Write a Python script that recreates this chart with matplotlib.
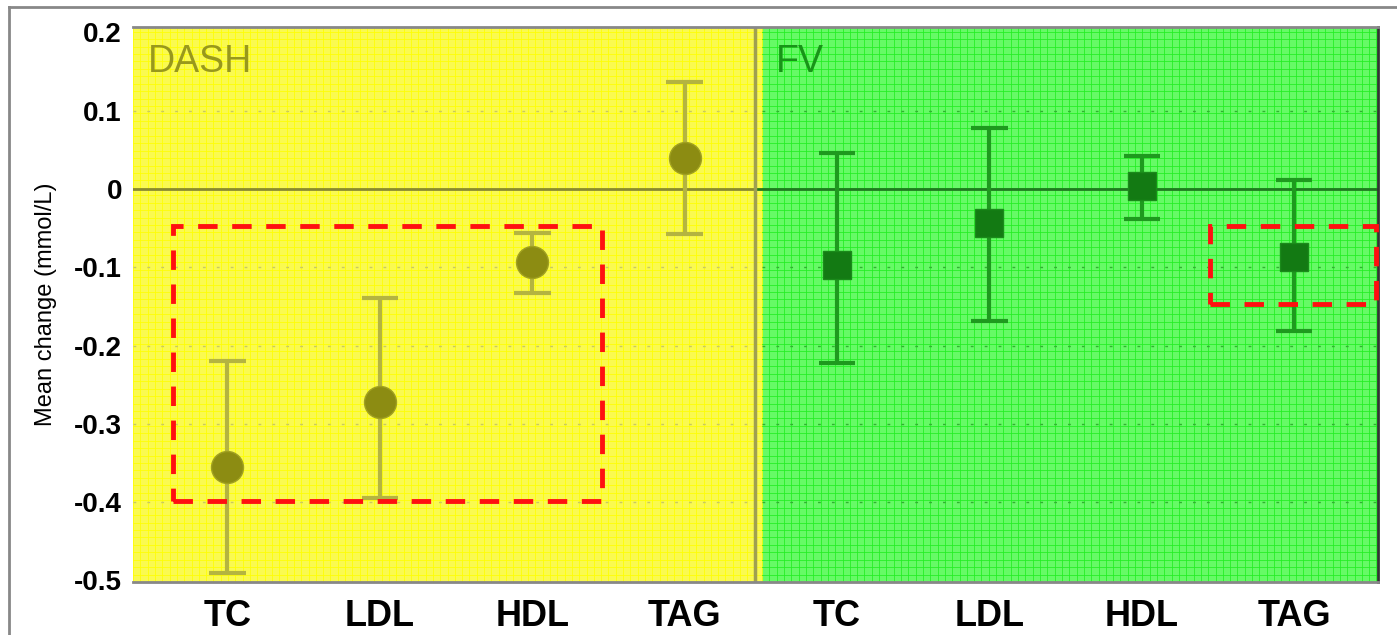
"""Mean lipid change per diet arm, DASH vs FV, with 95% intervals."""

import numpy as np
import matplotlib.pyplot as plt
from matplotlib.patches import Rectangle

plt.rcParams["font.family"] = ["Liberation Sans", "DejaVu Sans"]

lipids = ["TC", "LDL", "HDL", "TAG"]

dash_mean = [-0.355, -0.272, -0.093, 0.040]
dash_upper = [-0.220, -0.139, -0.056, 0.137]
dash_lower = [-0.490, -0.395, -0.133, -0.057]

fv_mean = [-0.097, -0.043, 0.004, -0.087]
fv_upper = [0.046, 0.078, 0.042, 0.011]
fv_lower = [-0.222, -0.169, -0.038, -0.181]

y_ticks = [0.2, 0.1, 0, -0.1, -0.2, -0.3, -0.4, -0.5]
tick_labels = ["0.2", "0.1", "0", "-0.1", "-0.2", "-0.3", "-0.4", "-0.5"]

fig = plt.figure(figsize=(13.97, 6.35), dpi=100)
ax = fig.add_axes([133 / 1397, 1 - 582 / 635, 1245 / 1397, 555 / 635])

x_left, x_right = -0.62, 7.55
split = 3.46
green_start = split + 0.05
ax.set_xlim(x_left, x_right)
ax.set_ylim(-0.502, 0.207)

# panel backgrounds with a fine screen mesh
ax.axvspan(x_left, green_start, color="#fafa50", lw=0, zorder=0)
ax.axvspan(green_start, x_right, color="#66fa66", lw=0, zorder=0)
for xv in np.arange(x_left, x_right, 0.048):
    c = "#ffff00" if xv < green_start else "#22ee22"
    ax.axvline(xv, color=c, lw=0.7, alpha=0.8, zorder=0.5)
for yv in np.arange(-0.502, 0.207, 0.0095):
    ax.plot([x_left, green_start], [yv, yv], color="#ffff00", lw=0.7, alpha=0.8, zorder=0.5)
    ax.plot([green_start, x_right], [yv, yv], color="#22ee22", lw=0.7, alpha=0.8, zorder=0.5)

# faint dotted gridlines
for yv in [0.1, -0.1, -0.2, -0.3, -0.4]:
    ax.plot([x_left, split], [yv, yv], color="#c8c860", lw=1, ls=(0, (2, 8)), zorder=1)
    ax.plot([green_start, x_right], [yv, yv], color="#30b030", lw=1, ls=(0, (2, 8)), zorder=1)

# zero line and panel separator
ax.plot([x_left, split], [0, 0], color="#8a8a30", lw=2, zorder=2)
ax.plot([split, x_right], [0, 0], color="#1f7a1f", lw=2, zorder=2)
ax.axvline(split, color="#a0a050", lw=2.5, zorder=2)

xs = np.arange(4)
ax.vlines(xs, dash_lower, dash_upper, color="#b4b440", lw=3, zorder=3)
ax.hlines(dash_upper + dash_lower, np.tile(xs, 2) - 0.12, np.tile(xs, 2) + 0.12,
          color="#b4b440", lw=3, zorder=3)
ax.plot(xs, dash_mean, "o", ms=23, color="#8c8c12", mec="#a0a020", zorder=4)

xf = np.arange(4) + 4
ax.vlines(xf, fv_lower, fv_upper, color="#1e9a1e", lw=3, zorder=3)
ax.hlines(fv_upper + fv_lower, np.tile(xf, 2) - 0.12, np.tile(xf, 2) + 0.12,
          color="#1e9a1e", lw=3, zorder=3)
ax.plot(xf, fv_mean, "s", ms=20, color="#137a13", mec="#1a8a1a", zorder=4)

# highlighted groups
ax.add_patch(Rectangle((-0.36, -0.398), 2.82, 0.351, fill=False, ec="#ff1010",
                       lw=3.5, ls=(0, (4, 3)), zorder=5))
ax.add_patch(Rectangle((6.45, -0.147), 1.09, 0.100, fill=False, ec="#ff1010",
                       lw=3.5, ls=(0, (4, 3)), zorder=5, clip_on=False))

ax.text(-0.52, 0.185, "DASH", fontsize=27, color="#98981c", va="top", ha="left", zorder=6)
ax.text(3.6, 0.185, "FV", fontsize=27, color="#189418", va="top", ha="left", zorder=6)

ax.set_xticks(list(xs) + list(xf))
ax.set_xticklabels(lipids + lipids, fontsize=26, fontweight="bold")
ax.set_yticks(y_ticks)
ax.set_yticklabels(tick_labels, fontsize=20, fontweight="bold")
ax.tick_params(axis="x", length=0, pad=12)
ax.tick_params(axis="y", length=0, pad=8)
ax.set_ylabel("Mean change (mmol/L)", fontsize=17, labelpad=12)

for side in ["top", "bottom"]:
    ax.spines[side].set_color("#888888")
    ax.spines[side].set_linewidth(2)
ax.spines["left"].set_visible(False)
ax.spines["right"].set_color("#333333")
ax.spines["right"].set_linewidth(2)

# outer frame lines
fig.add_artist(plt.Line2D([9 / 1397, 1], [1 - 7 / 635, 1 - 7 / 635], color="#888888", lw=2))
fig.add_artist(plt.Line2D([9 / 1397, 9 / 1397], [0, 1 - 7 / 635], color="#888888", lw=2))

fig.savefig("out.png", dpi=100)
